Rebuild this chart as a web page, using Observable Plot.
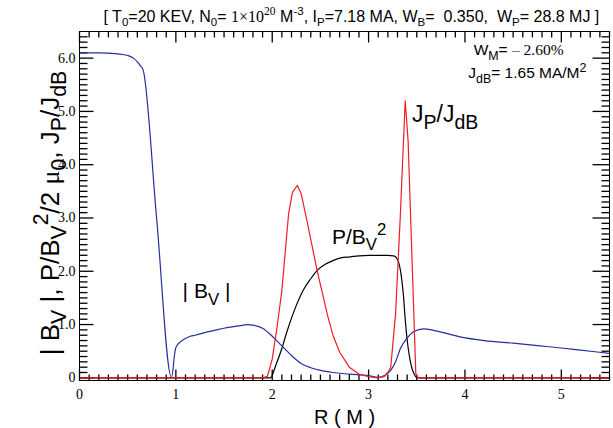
<!DOCTYPE html>
<html>
<head>
<meta charset="utf-8">
<script src="https://cdn.jsdelivr.net/npm/d3@7"></script>
<script src="https://cdn.jsdelivr.net/npm/@observablehq/plot@0.6"></script>
<style>
  body { margin: 0; background: #fff; }
  #chart svg text { white-space: pre; }
</style>
</head>
<body>
<div id="chart"></div>
<script>
const SANS = "'Liberation Sans', Arial, Helvetica, sans-serif";
const SERIF = "'Liberation Serif', 'Times New Roman', serif";

// |B_V| along the major radius R (m)
const bvR = [0, 0.2, 0.4, 0.5, 0.56, 0.6, 0.63, 0.66, 0.8, 0.955, 0.99, 1.0, 1.05, 1.1, 1.15, 1.2, 1.3, 1.4, 1.5, 1.6, 1.7, 1.75, 1.8, 1.9, 2.0, 2.1, 2.2, 2.3, 2.4, 2.5, 2.63, 2.8, 3.0, 3.1, 3.17, 3.23, 3.28, 3.33, 3.4, 3.47, 3.57, 3.7, 3.95, 4.2, 4.5, 4.78, 5.0, 5.2, 5.5];
const bvV = [6.1, 6.1, 6.08, 6.05, 6.0, 5.93, 5.86, 5.78, 3.0, 0.0, 0.48, 0.57, 0.68, 0.74, 0.78, 0.8, 0.85, 0.89, 0.93, 0.96, 0.99, 1.0, 0.99, 0.93, 0.78, 0.6, 0.42, 0.27, 0.19, 0.14, 0.1, 0.07, 0.04, 0.01, 0.05, 0.14, 0.3, 0.55, 0.75, 0.87, 0.92, 0.88, 0.77, 0.7, 0.65, 0.6, 0.56, 0.52, 0.46];

// P / B_V^2
const pbR = [0, 1.98, 2.04, 2.1, 2.15, 2.2, 2.25, 2.32, 2.4, 2.47, 2.55, 2.63, 2.71, 2.81, 2.9, 3.0, 3.1, 3.2, 3.26, 3.29, 3.31, 3.34, 3.36, 3.38, 3.41, 3.44, 3.47, 3.5, 3.55, 5.5];
const pbV = [0, 0, 0.25, 0.55, 0.85, 1.12, 1.36, 1.64, 1.86, 2.02, 2.13, 2.2, 2.25, 2.27, 2.29, 2.3, 2.3, 2.3, 2.29, 2.25, 2.18, 1.9, 1.58, 1.1, 0.57, 0.25, 0.08, 0.01, 0, 0];

// J_P / J_dB
const jR = [0, 1.9, 1.95, 2.0, 2.05, 2.1, 2.17, 2.21, 2.26, 2.3, 2.36, 2.42, 2.47, 2.52, 2.57, 2.63, 2.7, 2.8, 2.9, 3.0, 3.09, 3.16, 3.2, 3.23, 3.28, 3.33, 3.38, 3.41, 3.45, 3.49, 3.51, 5.5];
const jV = [0, 0, 0.03, 0.35, 0.95, 1.64, 3.08, 3.48, 3.61, 3.46, 2.95, 2.42, 1.98, 1.6, 1.2, 0.8, 0.48, 0.2, 0.07, 0.02, 0, 0.02, 0.1, 0.2, 1.2, 3.07, 5.2, 4.45, 2.27, 0.08, 0, 0];

// axis ticks and their labels
const xTicks = [0, 1, 2, 3, 4, 5];
const xTickLabels = ["0", "1", "2", "3", "4", "5"];
const yTicks = [0, 1, 2, 3, 4, 5, 6];
const yTickLabels = ["0", "1.0", "2.0", "3.0", "4.0", "5.0", "6.0"];
const xMinor = d3.range(0, 56).filter(i => i % 10).map(i => i / 10);
const yMinor = d3.range(0, 65).filter(i => i % 10).map(i => i / 10);

const BLUE = "#26309a";
const RED = "#ee1c24";

// layout
const WIDTH = 613, HEIGHT = 428;
const M = {left: 79, right: 4, top: 31, bottom: 48};
const FRAME_W = WIDTH - M.left - M.right;
const FRAME_H = HEIGHT - M.top - M.bottom;
const X_DOMAIN = [0, 5.5];
const Y_DOMAIN = [-0.05, 6.5];
// size of one pixel in each scale's units, for tick lengths given in pixels
const PX_X = (X_DOMAIN[1] - X_DOMAIN[0]) / FRAME_W;
const PX_Y = (Y_DOMAIN[1] - Y_DOMAIN[0]) / FRAME_H;

// short inward tick segments from each side of the frame
const tickStyle = {stroke: "#000", strokeWidth: 1.3};
function edgeTicks(values, side, len) {
  if (side === "bottom") return Plot.link(values, {x1: d => d, x2: d => d, y1: Y_DOMAIN[0], y2: Y_DOMAIN[0] + len * PX_Y, ...tickStyle});
  if (side === "top") return Plot.link(values, {x1: d => d, x2: d => d, y1: Y_DOMAIN[1], y2: Y_DOMAIN[1] - len * PX_Y, ...tickStyle});
  if (side === "left") return Plot.link(values, {y1: d => d, y2: d => d, x1: X_DOMAIN[0], x2: X_DOMAIN[0] + len * PX_X, ...tickStyle});
  return Plot.link(values, {y1: d => d, y2: d => d, x1: X_DOMAIN[1], x2: X_DOMAIN[1] - len * PX_X, ...tickStyle});
}

// text with sub/superscripts, built from parts {t, sub, sup, font}
function richText(parts, fontSize, options, scriptScale = 0.72) {
  return Plot.text([0], {
    text: () => parts.map(p => p.t).join(""),
    fontFamily: SANS, fontSize, fill: "#000", lineAnchor: "bottom",
    ...options,
    render(index, scales, values, dimensions, context, next) {
      const g = next(index, scales, values, dimensions, context);
      d3.select(g).selectAll("text").each(function () {
        const t = d3.select(this).text(null);
        let shift = 0;
        for (const p of parts) {
          const s = t.append("tspan").text(p.t);
          const target = p.sub ? fontSize * 0.3 : p.sup ? -fontSize * 0.42 : 0;
          if (target !== shift) { s.attr("dy", (target - shift) + "px"); shift = target; }
          if (p.sub || p.sup) s.attr("font-size", (fontSize * scriptScale) + "px");
          if (p.font) s.attr("font-family", p.font);
        }
      });
      return g;
    }
  });
}

const titleParts = [
  {t: "[ T"}, {t: "0", sub: true}, {t: "=20 KEV, N"}, {t: "0", sub: true}, {t: "= "},
  {t: "1\u00d710", font: SERIF}, {t: "20", sup: true, font: SERIF}, {t: " M"}, {t: "-3", sup: true},
  {t: ", I"}, {t: "P", sub: true}, {t: "=7.18 MA, W"}, {t: "B", sub: true},
  {t: "=  0.350,  W"}, {t: "P", sub: true}, {t: "= 28.8 MJ ]"}
];
const yLabelParts = [
  {t: "| B"}, {t: "V", sub: true}, {t: " |, P/B"}, {t: "V", sub: true}, {t: "2", sup: true},
  {t: "/2 "}, {t: "\u03bc", font: SERIF}, {t: "0", sub: true}, {t: ", J"}, {t: "P", sub: true},
  {t: "/J"}, {t: "dB", sub: true}
];

const plot = Plot.plot({
  width: WIDTH,
  height: HEIGHT,
  marginLeft: M.left,
  marginRight: M.right,
  marginTop: M.top,
  marginBottom: M.bottom,
  style: {background: "#fff", overflow: "visible", color: "#000"},
  x: {domain: X_DOMAIN},
  y: {domain: Y_DOMAIN},
  marks: [
    edgeTicks(xMinor, "bottom", 6), edgeTicks(xTicks, "bottom", 11),
    edgeTicks(xMinor, "top", 6), edgeTicks(xTicks, "top", 11),
    edgeTicks(yMinor, "left", 8), edgeTicks(yTicks, "left", 14),
    edgeTicks(yMinor, "right", 8), edgeTicks(yTicks, "right", 17),
    Plot.line(d3.zip(pbR, pbV), {x: d => d[0], y: d => d[1], stroke: "#000", strokeWidth: 1.2, curve: "monotone-x"}),
    Plot.line(d3.zip(bvR, bvV), {x: d => d[0], y: d => d[1], stroke: BLUE, strokeWidth: 1.2, curve: "monotone-x"}),
    Plot.line(d3.zip(jR, jV), {x: d => d[0], y: d => d[1], stroke: RED, strokeWidth: 1.2}),
    Plot.frame({stroke: "#000", strokeWidth: 1}),
    Plot.axisX({ticks: xTicks, tickSize: 0, tickPadding: 9, tickFormat: d => xTickLabels[xTicks.indexOf(d)],
      fontFamily: SERIF, fontSize: 14, label: null}),
    Plot.axisY({ticks: yTicks, tickSize: 0, tickPadding: 4, tickFormat: d => yTickLabels[yTicks.indexOf(d)],
      fontFamily: SERIF, fontSize: 14, label: null}),
    richText(titleParts, 16, {frameAnchor: "top-left", dx: 24, dy: -10, textAnchor: "start"}),
    richText([{t: "W"}, {t: "M", sub: true}, {t: "= "}, {t: "\u2013 2.60%", font: SERIF}], 15.5,
      {x: 4.09, y: 6.05, textAnchor: "start"}, 0.8),
    richText([{t: "J"}, {t: "dB", sub: true}, {t: "= 1.65 MA/M"}, {t: "2", sup: true}], 15.5,
      {x: 4.035, y: 5.62, textAnchor: "start"}, 0.8),
    richText([{t: "J"}, {t: "P", sub: true}, {t: "/J"}, {t: "dB", sub: true}], 23,
      {x: 3.45, y: 4.8, textAnchor: "start"}, 0.85),
    richText([{t: "P/B"}, {t: "V", sub: true}, {t: "2", sup: true}], 21,
      {x: 2.62, y: 2.52, textAnchor: "start"}, 0.8),
    richText([{t: "| B"}, {t: "V", sub: true}, {t: " |"}], 21,
      {x: 1.07, y: 1.49, textAnchor: "start"}, 0.8),
    richText(yLabelParts, 26, {frameAnchor: "left", dx: -21, dy: 7, rotate: -90, textAnchor: "middle"}, 0.82),
    richText([{t: "R ( M )"}], 20, {frameAnchor: "bottom", dy: 43, textAnchor: "middle"})
  ]
});

document.getElementById("chart").appendChild(plot);
</script>
</body>
</html>
